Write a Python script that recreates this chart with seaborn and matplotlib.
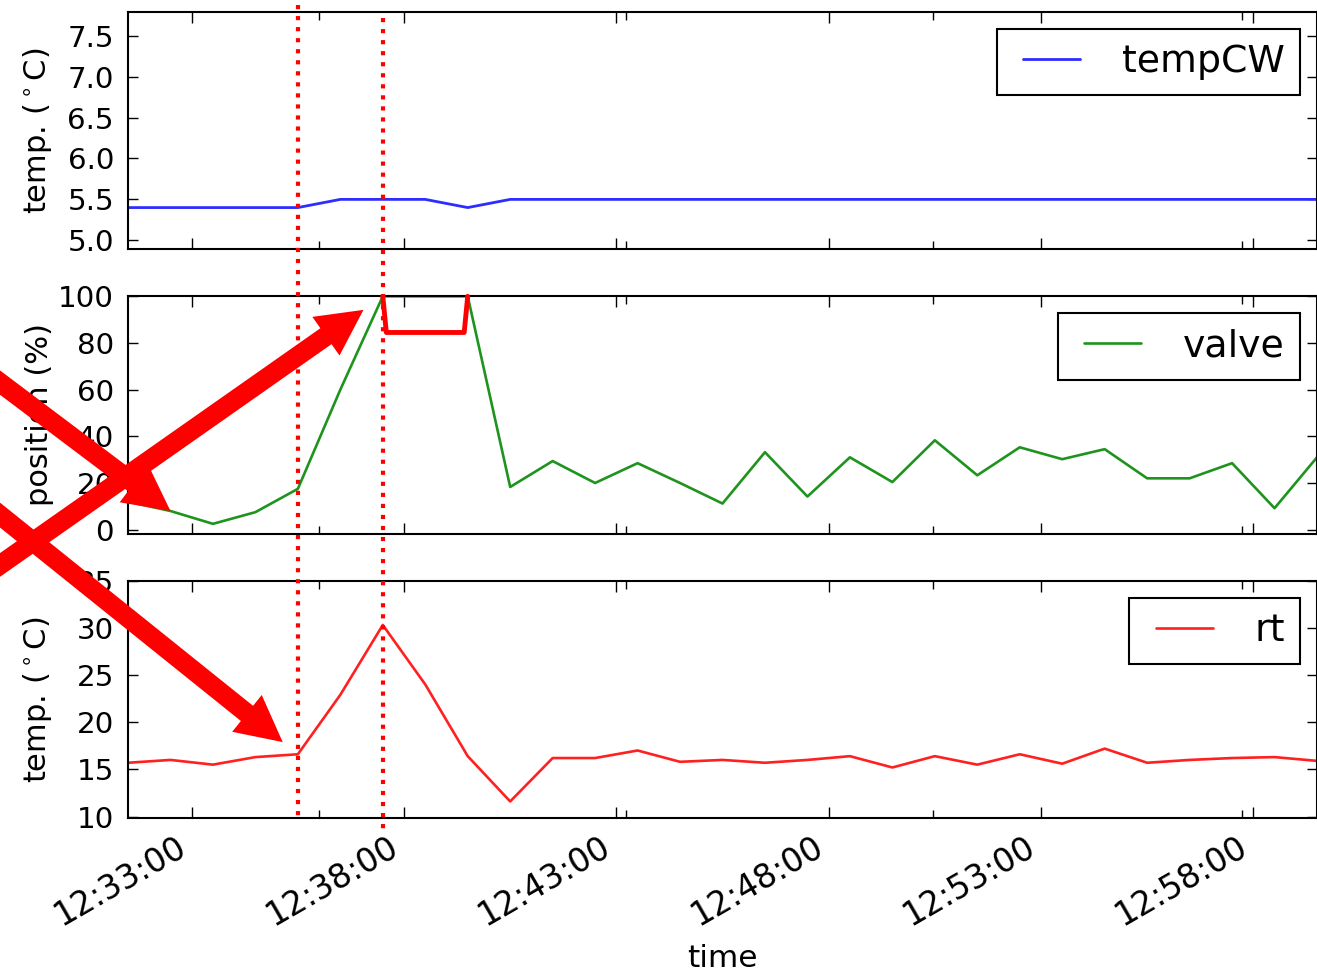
import pandas as pd
import seaborn as sns
import matplotlib.pyplot as plt
import matplotlib.dates as mdates
import matplotlib.transforms as mtransforms
from matplotlib.lines import Line2D
from matplotlib.ticker import FixedLocator

# one reading per minute, 12:31:30 .. 12:59:30
day = '2016-06-01 '
times = pd.date_range(day + '12:31:30', periods=29, freq='1min')

temp_cw = [5.4, 5.4, 5.4, 5.4, 5.4, 5.5, 5.5, 5.5, 5.4, 5.5,
           5.5, 5.5, 5.5, 5.5, 5.5, 5.5, 5.5, 5.5, 5.5, 5.5,
           5.5, 5.5, 5.5, 5.5, 5.5, 5.5, 5.5, 5.5, 5.5]
valve = [12.0, 8.0, 2.5, 7.5, 17.5, 60.0, 100.0, 100.0, 100.0, 18.3,
         29.4, 20.0, 28.5, 20.0, 11.2, 33.2, 14.2, 31.0, 20.4, 38.3,
         23.3, 35.3, 30.2, 34.5, 22.0, 22.0, 28.5, 9.2, 31.0]
rt = [15.7, 16.0, 15.5, 16.3, 16.6, 22.9, 30.3, 24.0, 16.4, 11.6,
      16.2, 16.2, 17.0, 15.8, 16.0, 15.7, 16.0, 16.4, 15.2, 16.4,
      15.5, 16.6, 15.6, 17.2, 15.7, 16.0, 16.2, 16.3, 15.9]

tick_times = ['12:33:00', '12:38:00', '12:43:00', '12:48:00', '12:53:00', '12:58:00']
minor_times = ['12:36:00', '12:43:14', '12:50:28', '12:57:44']
marked_times = ['12:35:30', '12:37:30']   # dotted red markers

temp_ticks = [5.0, 5.5, 6.0, 6.5, 7.0, 7.5]
valve_ticks = [0, 20, 40, 60, 80, 100]
rt_ticks = [10, 15, 20, 25, 30, 35]

bracket_level = 84.5   # red box drawn over the saturated valve

sns.set_theme(style='ticks', rc={
    'axes.edgecolor': 'black', 'axes.linewidth': 1.5,
    'xtick.direction': 'in', 'ytick.direction': 'in',
    'xtick.top': True, 'ytick.right': True,
    'xtick.major.size': 8, 'ytick.major.size': 7, 'xtick.minor.size': 6,
    'xtick.major.width': 1, 'ytick.major.width': 1, 'xtick.minor.width': 1,
    'xtick.major.pad': 9, 'ytick.major.pad': 10,
    'xtick.color': 'black', 'ytick.color': 'black', 'text.color': 'black',
    'axes.labelcolor': 'black',
})
plt.rcParams['font.family'] = ['DejaVu Sans']

fig, axes = plt.subplots(3, 1, sharex=True, figsize=(13.17, 9.74), dpi=100)
fig.subplots_adjust(left=0.0972, right=1.0, top=0.9877, bottom=0.1602, hspace=0.198)
ax1, ax2, ax3 = axes

sns.lineplot(x=times, y=temp_cw, ax=ax1, color='#2d2dff', lw=2, label='tempCW')
sns.lineplot(x=times, y=valve, ax=ax2, color='#1e941e', lw=1.9, label='valve')
sns.lineplot(x=times, y=rt, ax=ax3, color='#ff2020', lw=1.9, label='rt')

ax1.set_ylim(4.89, 7.79)
ax2.set_ylim(-1.7, 100)
ax3.set_ylim(9.85, 35)
ax1.set_yticks(temp_ticks)
ax2.set_yticks(valve_ticks)
ax3.set_yticks(rt_ticks)

ax1.set_ylabel('temp. ($^\\circ$C)', fontsize=22)
ax2.set_ylabel('position (%)', fontsize=22)
ax3.set_ylabel('temp. ($^\\circ$C)', fontsize=22)
for ax in axes:
    ax.yaxis.set_label_coords(-0.062, 0.5)
    ax.tick_params(axis='y', labelsize=21.2)
    leg = ax.legend(loc='upper right', fontsize=27.3, frameon=True, fancybox=False,
                    edgecolor='black', framealpha=1, numpoints=2, handlelength=2.1,
                    handletextpad=0.8, borderpad=0.4, borderaxespad=0.45)
    leg.get_frame().set_linewidth(1.5)

ticks = mdates.date2num(pd.to_datetime([day + t for t in tick_times]))
minors = mdates.date2num(pd.to_datetime([day + t for t in minor_times]))
ax3.xaxis.set_major_locator(FixedLocator(ticks))
ax3.xaxis.set_minor_locator(FixedLocator(minors))
ax3.xaxis.set_major_formatter(mdates.DateFormatter('%H:%M:%S'))
ax3.set_xlim(times[0], times[-1])
ax3.tick_params(axis='x', labelsize=23.5)
plt.setp(ax3.get_xticklabels(), rotation=30, ha='right')
ax3.set_xlabel('time', fontsize=22.5)
ax3.xaxis.labelpad = 8

# red bracket over the period where the valve sits at 100 %
bracket_x = [times[6], times[6] + pd.Timedelta(seconds=5),
             times[8] - pd.Timedelta(seconds=5), times[8]]
ax2.plot(bracket_x, [100, bracket_level, bracket_level, 100], color='red',
         lw=3.5, clip_on=False, solid_joinstyle='round', zorder=5)

# dotted vertical markers across all three panels
blend = mtransforms.blended_transform_factory(ax3.transData, fig.transFigure)
marks = mdates.date2num(pd.to_datetime([day + t for t in marked_times]))
for m, (y0, y1) in zip(marks, [(0.995, 0.160), (0.9815, 0.146)]):
    fig.add_artist(Line2D([m, m], [y0, y1], transform=blend, color='red',
                          lw=3, ls=':'))

# big red arrows (tails start off the left edge)
H = 974
arrow_style = 'simple,head_length=3.3,head_width=3.4,tail_width=1.4'
arrows = [(ax2, 1, valve, (-30, H - 360), 0),
          (ax2, 6, valve, (-30, H - 586), 17),
          (ax3, 4, rt, (-30, H - 491), 14)]
for tax, i, vals, tail, shrink in arrows:
    ax3.annotate('', xy=(mdates.date2num(times[i]), vals[i]), xycoords=tax.transData,
                 xytext=tail, textcoords='figure pixels',
                 arrowprops=dict(arrowstyle=arrow_style, fc='red', ec='none',
                                 mutation_scale=10, shrinkA=0, shrinkB=shrink),
                 zorder=10)

fig.savefig('out.png', dpi=100, facecolor='white')
